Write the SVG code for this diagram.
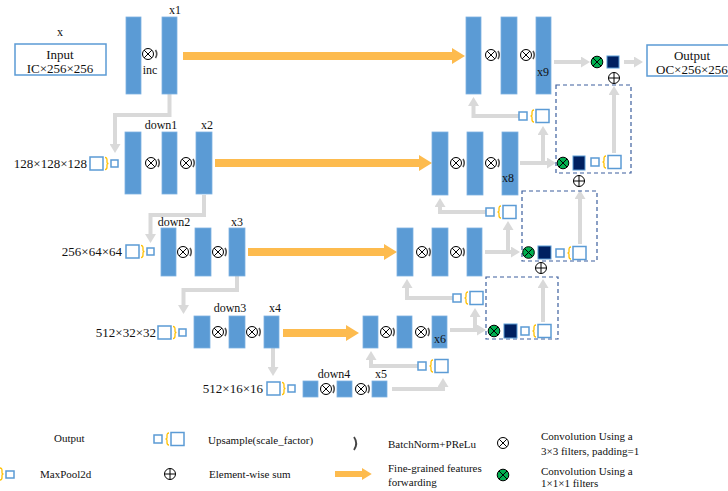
<svg xmlns="http://www.w3.org/2000/svg" xmlns:xlink="http://www.w3.org/1999/xlink" width="728" height="491" viewBox="0 0 728 491">
<style>
text{font-family:"Liberation Serif","Times New Roman",serif;fill:#111;}
.lbl{font-size:12px;text-anchor:middle;}
.dim{font-size:13px;text-anchor:end;}
.leg{font-size:11px;}
.bar{fill:#5b9bd5;stroke:#7eb1e2;stroke-width:0.8;}
.gc{fill:none;stroke:#d9d9d9;stroke-width:4;marker-end:url(#ga);}
.oc{fill:none;stroke:#fdbb4e;stroke-width:8;marker-end:url(#oa);}
.dash{fill:none;stroke:#3d5f9e;stroke-width:1.2;stroke-dasharray:4 3;}
.sq{fill:#fff;stroke:#5b9bd5;stroke-width:1.5;}
.navy{fill:#002060;stroke:#5b9bd5;stroke-width:1;}
.br{fill:none;stroke:#ffc000;stroke-width:1.3;}
.box{fill:#fff;stroke:#5b9bd5;stroke-width:1.5;}
</style>
<defs>
<marker id="ga" viewBox="0 0 9 11" markerWidth="2.25" markerHeight="2.75" refX="0" refY="5.5" orient="auto" markerUnits="strokeWidth"><path d="M0,0 L9,5.5 L0,11 z" fill="#d9d9d9"/></marker>
<marker id="oa" viewBox="0 0 13 16" markerWidth="1.625" markerHeight="2" refX="0" refY="8" orient="auto" markerUnits="strokeWidth"><path d="M0,0 L13,8 L0,16 z" fill="#fdbb4e"/></marker>
<g id="mul"><circle r="5.5" fill="#fff" stroke="#000" stroke-width="1"/><path d="M-3.9,-3.9 L3.9,3.9 M-3.9,3.9 L3.9,-3.9" stroke="#000" stroke-width="1"/></g>
<g id="gmul"><circle r="5.8" fill="#00b050" stroke="#000" stroke-width="1"/><path d="M-4.1,-4.1 L4.1,4.1 M-4.1,4.1 L4.1,-4.1" stroke="#000" stroke-width="1"/></g>
<g id="add"><circle r="5.5" fill="#fff" stroke="#000" stroke-width="1"/><path d="M-5.5,0 H5.5 M0,-5.5 V5.5" stroke="#000" stroke-width="1"/></g>
<path id="bn" d="M0,-4 Q2.5,0 0,4" fill="none" stroke="#555" stroke-width="1.6"/>
<path id="lbr" d="M2,-6 Q0,-6 0,-3.5 V-1.5 Q0,0 -1.5,0 Q0,0 0,1.5 V3.5 Q0,6 2,6"/>
<path id="rbr" d="M-2,-6 Q0,-6 0,-3.5 V-1.5 Q0,0 1.5,0 Q0,0 0,1.5 V3.5 Q0,6 -2,6"/>
<g id="ups"><rect class="sq" x="0" y="-4" width="8" height="8"/><use href="#lbr" class="br" x="13" y="0"/><rect class="sq" x="17" y="-6.5" width="13" height="13"/></g>
<g id="mp"><rect class="sq" x="0" y="-6" width="13" height="13"/><use href="#rbr" class="br" x="17" y="0.5"/><rect class="sq" x="21" y="-3" width="7" height="7"/></g>
</defs>

<g id="connectors">
<path class="oc" d="M183,56 H452"/>
<path class="oc" d="M215,163 H419"/>
<path class="oc" d="M248,252 H384"/>
<path class="oc" d="M283,333 H346"/>
<path class="gc" d="M554,62 H581"/>
<path class="gc" d="M624,62 H634"/>
<path class="gc" d="M169.5,94 V115 H115 V144"/>
<path class="gc" d="M520,163 H547"/>
<path class="gc" d="M543,163 V135"/>
<path class="gc" d="M519,116 H473.5 V106"/>
<path class="gc" d="M204,195 V215 H150.5 V234"/>
<path class="gc" d="M485,252 H511"/>
<path class="gc" d="M508,252 V230"/>
<path class="gc" d="M486,212 H440 V207"/>
<path class="gc" d="M237,276 V290 H183.5 V305"/>
<path class="gc" d="M450,330 H477"/>
<path class="gc" d="M475,330 V317"/>
<path class="gc" d="M453,298 H407 V288"/>
<path class="gc" d="M418,366 H371 V360"/>
<path class="gc" d="M273,348 V367"/>
<path class="gc" d="M392,389 H443 V387"/>
<path class="gc" d="M614,153 V95"/>
<path class="gc" d="M580,244 V199"/>
<path class="gc" d="M543,322 V288"/>
</g>

<g id="input">
<text class="lbl" x="60" y="36">x</text>
<rect class="box" x="15" y="44" width="91" height="31"/>
<text class="lbl" x="60" y="59" style="font-size:13px">Input</text>
<text class="lbl" x="60" y="73" style="font-size:13px">IC×256×256</text>
</g>

<g id="inc">
<rect class="bar" x="126" y="17" width="15" height="77"/>
<rect class="bar" x="162" y="17" width="15" height="77"/>
<use href="#mul" x="148" y="54"/><use href="#bn" x="155.5" y="54"/>
<text class="lbl" x="150" y="74">inc</text>
<text class="lbl" x="175" y="14">x1</text>
</g>

<g id="down1">
<text class="dim" x="87" y="168">128×128×128</text>
<use href="#mp" x="90" y="163"/>
<rect class="bar" x="125" y="132" width="16" height="62"/>
<rect class="bar" x="162" y="132" width="15" height="62"/>
<rect class="bar" x="196" y="132" width="16" height="62"/>
<use href="#mul" x="151" y="163"/><use href="#bn" x="158" y="163"/>
<use href="#mul" x="186" y="163"/><use href="#bn" x="193" y="163"/>
<text class="lbl" x="161" y="129">down1</text>
<text class="lbl" x="207" y="129">x2</text>
</g>

<g id="down2">
<text class="dim" x="122" y="256">256×64×64</text>
<use href="#mp" x="126" y="251"/>
<rect class="bar" x="161" y="228" width="15" height="48"/>
<rect class="bar" x="195" y="228" width="16" height="48"/>
<rect class="bar" x="229" y="228" width="16" height="48"/>
<use href="#mul" x="183" y="252"/><use href="#bn" x="190" y="252"/>
<use href="#mul" x="218" y="252"/><use href="#bn" x="225" y="252"/>
<text class="lbl" x="174" y="226">down2</text>
<text class="lbl" x="237" y="226">x3</text>
</g>

<g id="down3">
<text class="dim" x="156" y="337">512×32×32</text>
<use href="#mp" x="158" y="332"/>
<rect class="bar" x="194" y="316" width="16" height="32"/>
<rect class="bar" x="229" y="316" width="16" height="32"/>
<rect class="bar" x="264" y="316" width="15" height="32"/>
<use href="#mul" x="218" y="332"/><use href="#bn" x="225" y="332"/>
<use href="#mul" x="252" y="332"/><use href="#bn" x="259" y="332"/>
<text class="lbl" x="230" y="312">down3</text>
<text class="lbl" x="275" y="312">x4</text>
</g>

<g id="down4">
<text class="dim" x="263" y="393">512×16×16</text>
<use href="#mp" x="267" y="388"/>
<rect class="bar" x="303" y="381" width="15" height="16"/>
<rect class="bar" x="337" y="381" width="15" height="16"/>
<rect class="bar" x="372" y="381" width="15" height="16"/>
<use href="#mul" x="326" y="389"/><use href="#bn" x="333" y="389"/>
<use href="#mul" x="361" y="389"/><use href="#bn" x="368" y="389"/>
<text class="lbl" x="334" y="378">down4</text>
<text class="lbl" x="381" y="378">x5</text>
</g>

<g id="up1">
<use href="#ups" x="418" y="366"/>
<rect class="bar" x="363" y="316" width="15" height="32"/>
<rect class="bar" x="397" y="316" width="15" height="32"/>
<rect class="bar" x="432" y="316" width="15" height="32"/>
<use href="#mul" x="386" y="332"/><use href="#bn" x="393" y="332"/>
<use href="#mul" x="421" y="332"/><use href="#bn" x="428" y="332"/>
<text class="lbl" x="440" y="343">x6</text>
</g>

<g id="out4">
<rect class="dash" x="486" y="277" width="72" height="62"/>
<use href="#gmul" x="494" y="331"/>
<rect class="navy" x="504" y="324" width="13" height="14"/>
<use href="#ups" x="521" y="331"/>
<use href="#add" x="541" y="268"/>
</g>

<g id="up2">
<use href="#ups" x="453" y="298"/>
<rect class="bar" x="397" y="228" width="16" height="48"/>
<rect class="bar" x="432" y="228" width="16" height="48"/>
<rect class="bar" x="467" y="228" width="15" height="48"/>
<use href="#mul" x="422" y="252"/><use href="#bn" x="429" y="252"/>
<use href="#mul" x="456" y="252"/><use href="#bn" x="463" y="252"/>
</g>

<g id="out3">
<rect class="dash" x="522" y="191" width="75" height="70"/>
<use href="#gmul" x="528.5" y="252.5"/>
<rect class="navy" x="538" y="246" width="13" height="13"/>
<use href="#ups" x="556" y="253"/>
<use href="#add" x="579" y="181"/>
</g>

<g id="up3">
<use href="#ups" x="486" y="212"/>
<rect class="bar" x="432" y="132" width="16" height="63"/>
<rect class="bar" x="467" y="132" width="16" height="63"/>
<rect class="bar" x="502" y="132" width="16" height="63"/>
<use href="#mul" x="456" y="163"/><use href="#bn" x="463" y="163"/>
<use href="#mul" x="491" y="163"/><use href="#bn" x="498" y="163"/>
<text class="lbl" x="508" y="182">x8</text>
</g>

<g id="out2">
<rect class="dash" x="556" y="85" width="75" height="88"/>
<use href="#gmul" x="563" y="163"/>
<rect class="navy" x="573" y="156" width="12" height="14"/>
<use href="#ups" x="591" y="162"/>
<use href="#add" x="614" y="78"/>
</g>

<g id="up4">
<use href="#ups" x="519" y="116"/>
<rect class="bar" x="466" y="17" width="15" height="77"/>
<rect class="bar" x="501" y="17" width="16" height="77"/>
<rect class="bar" x="536" y="17" width="15" height="77"/>
<use href="#mul" x="491" y="55"/><use href="#bn" x="498" y="55"/>
<use href="#mul" x="526" y="55"/><use href="#bn" x="533" y="55"/>
<text class="lbl" x="543" y="76">x9</text>
</g>

<g id="out1">
<use href="#gmul" x="597" y="62"/>
<rect class="navy" x="607" y="56" width="12" height="12"/>
</g>

<g id="output">
<rect class="box" x="647" y="45" width="92" height="31"/>
<text class="lbl" x="692" y="60" style="font-size:13px">Output</text>
<text x="656" y="74" style="font-size:13px">OC×256×256</text>
</g>

<g id="legend">
<text class="leg" x="54" y="442">Output</text>
<use href="#ups" x="154" y="439"/>
<text class="leg" x="208" y="444">Upsample(scale_factor)</text>
<path d="M354,437 Q358.5,443.5 354,450" fill="none" stroke="#444" stroke-width="1.8"/>
<text class="leg" x="388" y="448">BatchNorm+PReLu</text>
<use href="#mul" x="503" y="443"/>
<text class="leg" x="541" y="440">Convolution Using a</text>
<text class="leg" x="541" y="455">3×3 filters, padding=1</text>
<use href="#rbr" class="br" x="2" y="474"/>
<rect class="sq" x="6" y="471" width="8" height="7"/>
<text class="leg" x="40" y="478">MaxPool2d</text>
<use href="#add" x="170" y="474"/>
<text class="leg" x="209" y="478">Element-wise sum</text>
<path class="oc" d="M335,474 H362" style="stroke-width:6"/>
<text class="leg" x="388" y="472">Fine-grained features</text>
<text class="leg" x="388" y="486">forwarding</text>
<use href="#gmul" x="503" y="475"/>
<text class="leg" x="541" y="475">Convolution Using a</text>
<text class="leg" x="541" y="487">1×1×1 filters</text>
</g>
</svg>
